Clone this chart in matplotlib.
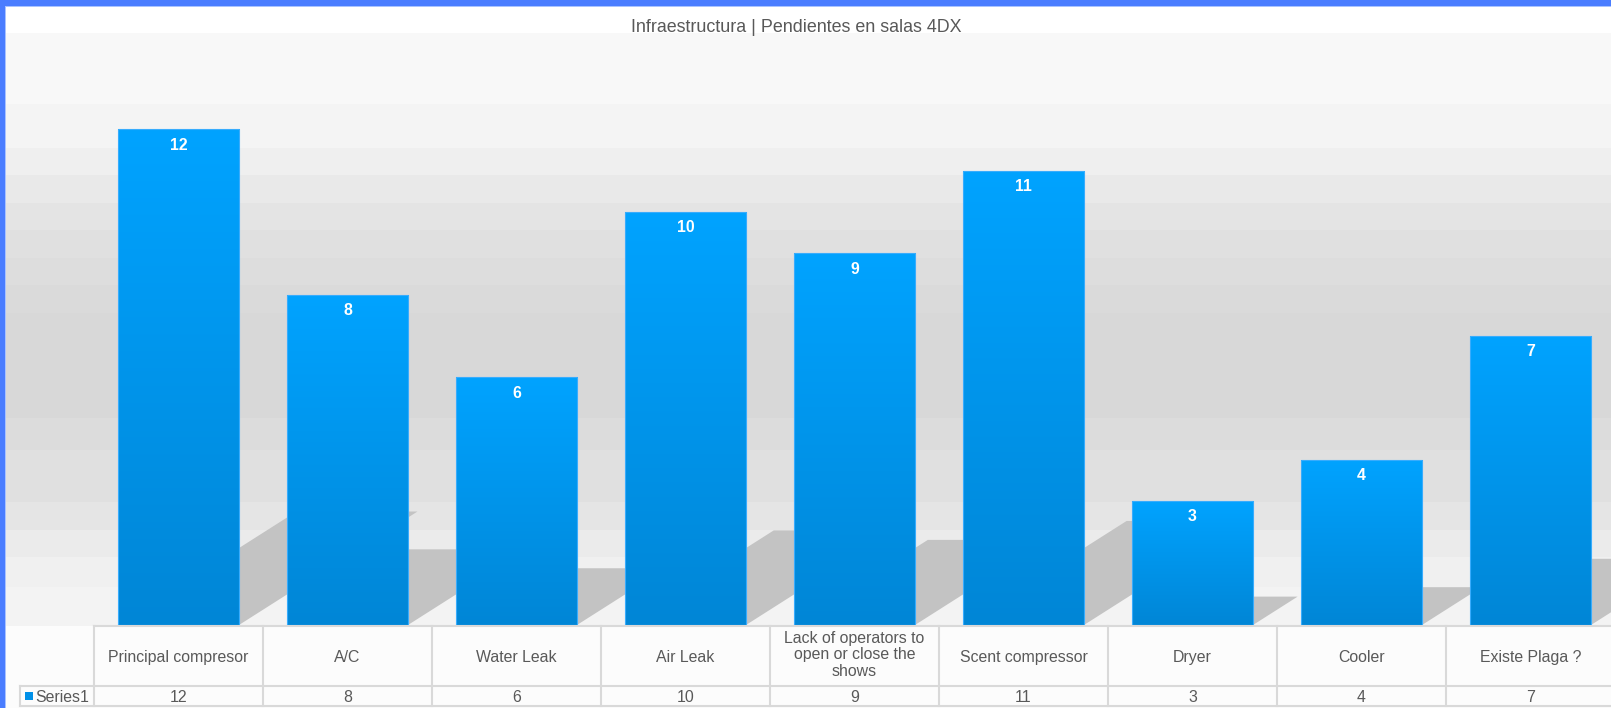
import numpy as np
import matplotlib
matplotlib.use('Agg')
import matplotlib.pyplot as plt
from matplotlib.patches import Polygon, Rectangle
from matplotlib.lines import Line2D
from matplotlib.colors import LinearSegmentedColormap
import matplotlib.transforms as mtransforms

# ---------------- data ----------------
categories = ["Principal compresor", "A/C", "Water Leak", "Air Leak",
              "Lack of operators to\nopen or close the\nshows", "Scent compressor",
              "Dryer", "Cooler", "Existe Plaga ?"]
values = [12, 8, 6, 10, 9, 11, 3, 4, 7]
series_name = "Series1"
title = "Infraestructura | Pendientes en salas 4DX"

plt.rcParams['font.family'] = ['Liberation Sans', 'DejaVu Sans']

W, H = 1611, 708
DPI = 100
fig = plt.figure(figsize=(W / DPI, H / DPI), dpi=DPI)
fig.patch.set_facecolor('white')


def fx(px):
    return px / W


def fy(py):
    return 1 - py / H


# ---------------- background ----------------
bg = fig.add_axes([0, 0, 1, 1], zorder=0)
bg.set_xlim(0, W)
bg.set_ylim(H, 0)
bg.axis('off')
band_edges = [33, 104, 148, 175, 203, 230, 258, 285, 313, 418, 450, 502, 530, 557, 587, 626]
band_grey = [0xf8, 0xf4, 0xef, 0xe9, 0xe4, 0xe0, 0xdd, 0xda, 0xd8, 0xdc, 0xe0, 0xe5, 0xeb, 0xf0, 0xf3]
for y0, y1, g in zip(band_edges[:-1], band_edges[1:], band_grey):
    bg.add_patch(Rectangle((4, y0), W - 4, y1 - y0, facecolor=(g / 255,) * 3,
                           edgecolor='none'))
# table background
bg.add_patch(Rectangle((4, 626), W - 4, 82, facecolor='#fcfcfc', edgecolor='none'))
# blue frame
bg.add_patch(Rectangle((0, 0), W, 6, facecolor='#4a7dff', edgecolor='none'))
bg.add_patch(Rectangle((0, 0), 4.5, H, facecolor='#4a7dff', edgecolor='none'))
bg.add_patch(Rectangle((4.5, 6), W, 1.2, facecolor='#a9c3ff', edgecolor='none'))
bg.add_patch(Rectangle((4.5, 6), 1.2, H, facecolor='#a9c3ff', edgecolor='none'))

# ---------------- main axes ----------------
px_per_unit = 41.3
ax = fig.add_axes([fx(94), fy(625), 1521 / W, (625 - 33) / H], zorder=1)
ax.set_facecolor('none')
for s in ax.spines.values():
    s.set_visible(False)
ax.set_xticks([])
ax.set_yticks([])

x = np.arange(len(values))
bw = 0.716

# shadows
sh_h = 0.229
sh_dx = 0.088
for xi, v in zip(x, values):
    ax.add_patch(Polygon([(xi - bw / 2, 0), (xi + bw / 2, 0),
                          (xi + bw / 2 + sh_dx * v, sh_h * v),
                          (xi - bw / 2 + sh_dx * v, sh_h * v)],
                         closed=True, facecolor='#c3c3c3', edgecolor='none', zorder=1))

bars = ax.bar(x, values, width=bw, color='none', edgecolor='#38acfd',
              linewidth=0.8, zorder=3)
grad = np.linspace(0, 1, 256).reshape(-1, 1)
cmap = LinearSegmentedColormap.from_list('b', ['#0086d6', '#00a3ff'])
for b, v in zip(bars, values):
    x0 = b.get_x()
    im = ax.imshow(grad, cmap=cmap, extent=(x0, x0 + bw, 0, v), origin='lower',
                   aspect='auto', zorder=2, interpolation='bilinear')
    im.set_clip_path(b)

for xi, v in zip(x, values):
    ax.text(xi, v - 20.3 / px_per_unit, str(v), ha='center', va='baseline',
            color='white', fontweight='bold', fontsize=11.4, zorder=4)

ax.set_xlim(-0.5, 8.5)
ax.set_ylim(0, (625 - 33) / px_per_unit)

# ---------------- table ----------------
blend = mtransforms.blended_transform_factory(ax.transData, fig.transFigure)
txt_col = '#595959'
line_col = '#d9d9d9'
for xi, cat, v in zip(x, categories, values):
    if '\n' in cat:
        ax.text(xi, fy(655), cat, transform=blend, ha='center', va='center',
                fontsize=11.4, color=txt_col, linespacing=1.15,
                multialignment='center', clip_on=False)
    else:
        ax.text(xi, fy(662), cat, transform=blend, ha='center', va='baseline',
                fontsize=11.4, color=txt_col, clip_on=False)
    ax.text(xi, fy(701.5), str(v), transform=blend, ha='center', va='baseline',
            fontsize=11.4, color=txt_col, clip_on=False)
for i in range(len(values) + 1):
    xv = i - 0.5
    ax.add_line(Line2D([xv, xv], [fy(626), fy(706)], transform=blend,
                       color=line_col, lw=1.5, clip_on=False))
ax.add_line(Line2D([-0.5, 8.6], [fy(626), fy(626)], transform=blend,
                   color=line_col, lw=1.5, clip_on=False))
for yy in (686, 706):
    fig.add_artist(Line2D([fx(20), 1], [fy(yy), fy(yy)], color=line_col, lw=1.5))
fig.add_artist(Line2D([fx(20), fx(20)], [fy(686), fy(706)], color=line_col, lw=1.5))
fig.add_artist(Rectangle((fx(25), fy(700)), 7.5 / W, 8 / H, facecolor='#0090e8',
                         edgecolor='none'))
fig.text(fx(35.5), fy(701.5), series_name, ha='left', va='baseline', fontsize=11.4,
         color=txt_col)

# ---------------- title ----------------
fig.text(fx(796), fy(32), title, ha='center', va='baseline', fontsize=12.9,
         color=txt_col)

fig.savefig('out.png', dpi=DPI)
